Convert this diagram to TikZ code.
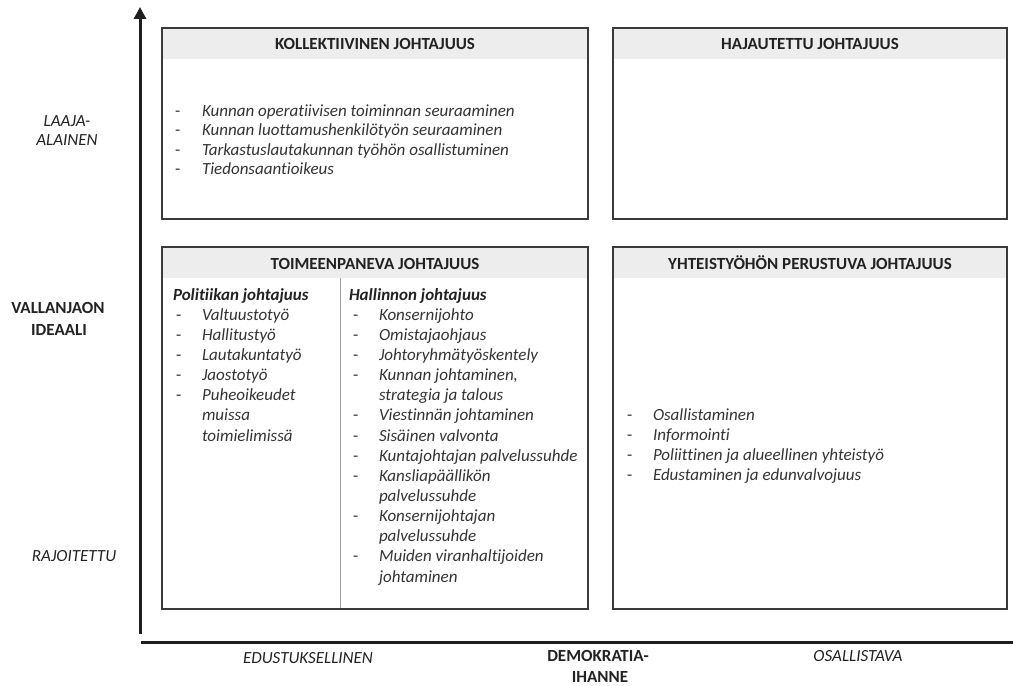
\documentclass[tikz,border=0pt]{standalone}
\usepackage{fontspec}
\setmainfont[Ligatures=NoCommon]{Carlito}
\usetikzlibrary{arrows.meta}
\definecolor{txt}{HTML}{333333}
\definecolor{ttl}{HTML}{222222}
\definecolor{frm}{HTML}{3A3A3A}
\definecolor{hdr}{HTML}{EDEDED}
\definecolor{dvd}{HTML}{A0A0A0}
\definecolor{axs}{HTML}{1E1E1E}
\begin{document}
\begin{tikzpicture}[x=0.75pt,y=-0.75pt,
  every node/.style={inner sep=0pt, outer sep=0pt},
  item/.style={anchor=base west, font=\fontsize{12.75}{15}\selectfont\itshape, text=txt},
  dashmark/.style={anchor=base west, font=\fontsize{12.75}{15}\selectfont, text=txt},
  colhead/.style={anchor=base west, font=\fontsize{12.75}{15}\selectfont\bfseries\itshape, text=ttl},
  title/.style={anchor=base, font=\fontsize{12.75}{15}\selectfont\bfseries, text=ttl},
  axlab/.style={anchor=base, font=\fontsize{12.75}{15}\selectfont\itshape, text=ttl},
  axlabb/.style={anchor=base, font=\fontsize{12.75}{15}\selectfont\bfseries, text=ttl},
  frame/.style={draw=frm, line width=1.5pt},
  headband/.style={fill=hdr},
  axisline/.style={draw=axs, line width=2.25pt}]

\useasboundingbox (0,0) rectangle (1013,685);

% header bands
\fill[headband] (162,28) rectangle (588,59);
\fill[headband] (613,28) rectangle (1007,59);
\fill[headband] (162,247) rectangle (588,278);
\fill[headband] (613,247) rectangle (1007,278);

% divider
\draw[dvd, line width=0.75pt] (340,278) -- (340,609);

% frames
\draw[frame] (162,28) rectangle (588,219);
\draw[frame] (613,28) rectangle (1007,219);
\draw[frame] (162,247) rectangle (588,609);
\draw[frame] (613,247) rectangle (1007,609);

% titles
\node[title] (tA) at (375,50) {KOLLEKTIIVINEN JOHTAJUUS};
\node[title] (tB) at (810,50) {HAJAUTETTU JOHTAJUUS};
\node[title] (tC) at (375,269) {TOIMEENPANEVA JOHTAJUUS};
\node[title] (tD) at (810,269) {YHTEISTYÖHÖN PERUSTUVA JOHTAJUUS};

% axes
\coordinate (vBot) at (140,634);
\coordinate (vTop) at (140,7);
\draw[axisline, -{Triangle[length=9pt,width=9pt]}] (vBot) -- (vTop);
\coordinate (hL) at (141,642);
\coordinate (hR) at (1013,642);
\draw[axisline] (hL) -- (hR);

% axis labels
\node[axlab] (yTop1) at (67,126) {LAAJA-};
\node[axlab] (yTop2) at (67,145) {ALAINEN};
\node[axlabb] (yMid1) at (58,313) {VALLANJAON};
\node[axlabb] (yMid2) at (59,335) {IDEAALI};
\node[axlab] (yBot) at (74,561) {RAJOITETTU};
\node[axlab] (xL) at (308,663) {EDUSTUKSELLINEN};
\node[axlabb] (xM1) at (598,661) {DEMOKRATIA-};
\node[axlabb] (xM2) at (600,682) {IHANNE};
\node[axlab] (xR) at (858,661) {OSALLISTAVA};

% Kollektiivinen list
\foreach \t [count=\k from 0] in {Kunnan operatiivisen toiminnan seuraaminen,
  Kunnan luottamushenkilötyön seuraaminen,
  Tarkastuslautakunnan työhön osallistuminen,
  Tiedonsaantioikeus} {
  \node[dashmark] (aD\k) at (175,{116+19.5*\k}) {-};
  \node[item] (aI\k) at (202,{116+19.5*\k}) {\t};
}

% Politiikan johtajuus
\node[colhead] (pH) at (173,300) {Politiikan johtajuus};
\foreach \k/\d/\t in {1/1/Valtuustotyö, 2/1/Hallitustyö, 3/1/Lautakuntatyö,
  4/1/Jaostotyö, 5/1/Puheoikeudet, 6/0/muissa, 7/0/toimielimissä} {
  \ifnum\d=1 \node[dashmark] (pD\k) at (176,{300+20.15*\k}) {-};\fi
  \node[item] (pI\k) at (202,{300+20.15*\k}) {\t};
}

% Hallinnon johtajuus
\node[colhead] (hH) at (349,300) {Hallinnon johtajuus};
\foreach \k/\d/\t in {1/1/Konsernijohto, 2/1/Omistajaohjaus,
  3/1/Johtoryhmätyöskentely, 4/1/{Kunnan johtaminen,}, 5/0/strategia ja talous,
  6/1/Viestinnän johtaminen, 7/1/Sisäinen valvonta,
  8/1/Kuntajohtajan palvelussuhde, 9/1/Kansliapäällikön, 10/0/palvelussuhde,
  11/1/Konsernijohtajan, 12/0/palvelussuhde, 13/1/Muiden viranhaltijoiden,
  14/0/johtaminen} {
  \ifnum\d=1 \node[dashmark] (hD\k) at (353,{300+20.15*\k}) {-};\fi
  \node[item] (hI\k) at (379,{300+20.15*\k}) {\t};
}

% Yhteistyöhön list
\foreach \t [count=\k from 0] in {Osallistaminen, Informointi,
  Poliittinen ja alueellinen yhteistyö,
  Edustaminen ja edunvalvojuus} {
  \node[dashmark] (dD\k) at (627,{420+20*\k}) {-};
  \node[item] (dI\k) at (653,{420+20*\k}) {\t};
}
\end{tikzpicture}
\end{document}
